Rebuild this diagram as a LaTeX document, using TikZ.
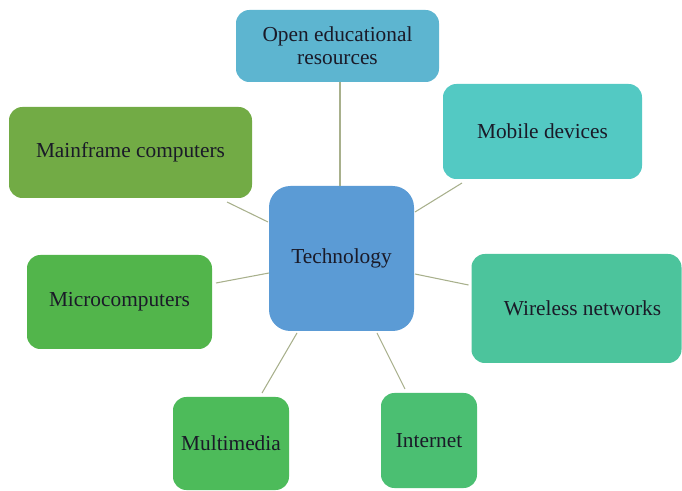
\documentclass[tikz,border=0pt]{standalone}
\usepackage{fontspec}
\setmainfont{Liberation Serif}
\definecolor{cOer}{HTML}{5DB5D0}
\definecolor{cMf}{HTML}{72AB45}
\definecolor{cTech}{HTML}{5B9BD5}
\definecolor{cMob}{HTML}{53C9C3}
\definecolor{cWl}{HTML}{4CC49C}
\definecolor{cMc}{HTML}{52B54B}
\definecolor{cMm}{HTML}{4DBB5A}
\definecolor{cInet}{HTML}{4BBF72}
\definecolor{cTxt}{HTML}{1A1A28}
\definecolor{cLine}{HTML}{A8B08C}
\tikzset{
  box/.style={rounded corners=10pt, inner sep=0pt, outer sep=0pt, align=center,
    text=cTxt, font=\fontsize{16}{17.25}\selectfont},
  link/.style={draw=cLine, line width=0.8pt}
}
\begin{document}
\begin{tikzpicture}[x=0.75pt,y=-0.75pt]
\useasboundingbox (0,0) rectangle (682,491);
\node[box, fill=cOer, minimum width=152.25pt, minimum height=54pt] (oer) at (337.5,46) {Open educational\\resources};
\node[box, fill=cMf, minimum width=182.25pt, minimum height=68.25pt] (mf) at (130.5,152.5) {Mainframe computers};
\node[box, fill=cTech, rounded corners=16pt, minimum width=108.75pt, minimum height=108.75pt] (tech) at (341.5,258.5) {\raisebox{-1.5pt}{Technology}};
\node[box, fill=cMob, minimum width=149.25pt, minimum height=71.25pt] (mob) at (542.5,131.5) {Mobile devices};
\node[box, fill=cWl, minimum width=157.5pt, minimum height=81.75pt] (wl) at (576.5,308.5) {\hspace*{9pt}Wireless networks};
\node[box, fill=cMc, minimum width=138.75pt, minimum height=70.5pt] (mc) at (119.5,302) {Microcomputers};
\node[box, fill=cMm, minimum width=87pt, minimum height=69.75pt] (mm) at (231,443.5) {Multimedia};
\node[box, fill=cInet, minimum width=72pt, minimum height=71.25pt] (inet) at (429,440.5) {Internet};

\draw[link] ([shift={(-1.5,0)}]tech.north) -- ([shift={(2.5,0)}]oer.south);
\draw[link] ([shift={(-25,4)}]mf.south east) -- ([shift={(-1,-36.5)}]tech.west);
\draw[link] ([shift={(4,-19)}]mc.east) -- ([shift={(0,14.5)}]tech.west);
\draw[link] ([shift={(19,4)}]mob.south west) -- ([shift={(1,-46.5)}]tech.east);
\draw[link] ([shift={(-3,-23.5)}]wl.west) -- ([shift={(1,15.5)}]tech.east);
\draw[link] ([shift={(31,-4)}]mm.north) -- ([shift={(-44.5,2)}]tech.south);
\draw[link] ([shift={(-24,-4)}]inet.north) -- ([shift={(35.5,2)}]tech.south);
\end{tikzpicture}
\end{document}
